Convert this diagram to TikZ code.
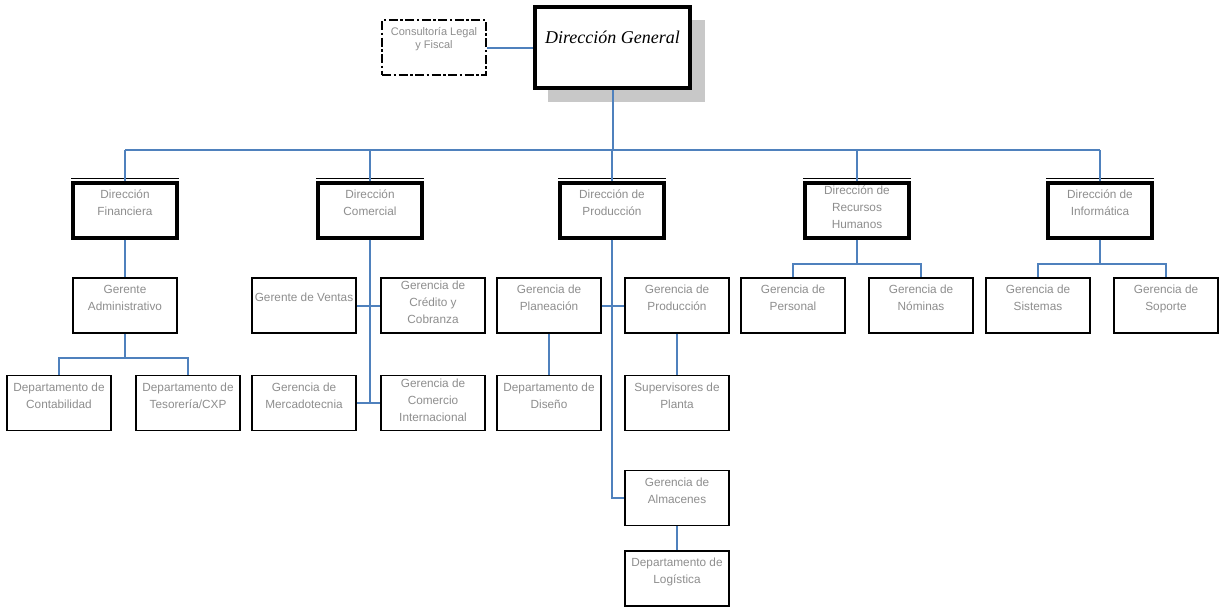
\documentclass[tikz,border=0pt]{standalone}
\usepackage{fontspec}
\setmainfont{Liberation Sans}
\newfontfamily\titlefont{Liberation Serif}
\definecolor{linkblue}{HTML}{4F81BD}
\definecolor{labelgray}{HTML}{8E8E8E}
\definecolor{shadowgray}{HTML}{C8C8C8}
\newcommand{\boxtext}[2][0pt]{\parbox[c][47pt][t]{100pt}{\vspace*{#1}\centering\strut #2}}
\tikzset{%
  org/.style = {
    x=1pt, y=-1pt,
    every node/.style = {shape=rectangle, inner sep=0pt, align=center,
      minimum width=104pt, minimum height=55pt, fill=white,
      text=labelgray, font=\fontsize{11.8}{17}\selectfont},
    link/.style = {draw=linkblue, line width=2pt}
  },
  unitbox/.style = {draw, line width=1.9pt},
  dirbox/.style = {draw, line width=3.4pt},
  headbox/.style = {draw, line width=4.6pt, minimum width=155pt, minimum height=81pt,
    text=black, font=\titlefont\itshape\fontsize{18}{20}\selectfont,
    text height=13pt, text depth=22pt},
  advisorbox/.style = {draw, line width=2.8pt, dash pattern=on 9pt off 2.5pt on 2.5pt off 2.5pt,
    font=\fontsize{11}{13}\selectfont}
}
\begin{document}
\begin{tikzpicture}[org]
  \useasboundingbox (0,0) rectangle (1219,608);
  % head and advisor
  \fill[shadowgray] (548,20) rectangle (705,102);
  \node[headbox] (dg) at (612.5,47.5) {Dirección General};
  \node[advisorbox] (cons) at (434,47.5)
    {\parbox[c][47pt][t]{100pt}{\vspace*{2pt}\centering\strut Consultoría Legal\\y Fiscal}};
  % directions
  \node[dirbox] (fin) at (125,210.5) {\boxtext{Dirección\\Financiera}};
  \node[dirbox] (com) at (370,210.5) {\boxtext{Dirección\\Comercial}};
  \node[dirbox] (pro) at (612,210.5) {\boxtext{Dirección de\\Producción}};
  \node[dirbox] (rh) at (857,210.5) {\boxtext[-4pt]{Dirección de\\Recursos\\Humanos}};
  \node[dirbox] (inf) at (1100,210.5) {\boxtext{Dirección de\\Informática}};
  \foreach \n in {fin,com,pro,rh,inf}
    \draw[line width=0.8pt] ([yshift=2.6pt]\n.north west) -- ([yshift=2.6pt]\n.north east);
  % finanzas
  \node[unitbox] (ga) at (125,305.5) {\boxtext{Gerente\\Administrativo}};
  \node[unitbox] (cont) at (59,403) {\boxtext{Departamento de\\Contabilidad}};
  \node[unitbox] (tes) at (188,403) {\boxtext{Departamento de\\Tesorería/CXP}};
  % comercial
  \node[unitbox] (vent) at (304,305.5) {\boxtext[8pt]{Gerente de Ventas}};
  \node[unitbox] (cred) at (433,305.5) {\boxtext[-4pt]{Gerencia de\\Crédito y\\Cobranza}};
  \node[unitbox] (merc) at (304,403) {\boxtext{Gerencia de\\Mercadotecnia}};
  \node[unitbox] (cint) at (433,403) {\boxtext[-4pt]{Gerencia de\\Comercio\\Internacional}};
  % produccion
  \node[unitbox] (plan) at (549,305.5) {\boxtext{Gerencia de\\Planeación}};
  \node[unitbox] (gpro) at (677,305.5) {\boxtext{Gerencia de\\Producción}};
  \node[unitbox] (dis) at (549,403) {\boxtext{Departamento de\\Diseño}};
  \node[unitbox] (sup) at (677,403) {\boxtext{Supervisores de\\Planta}};
  \node[unitbox] (alm) at (677,498) {\boxtext{Gerencia de\\Almacenes}};
  \node[unitbox] (log) at (677,578.5) {\boxtext{Departamento de\\Logística}};
  % recursos humanos
  \node[unitbox] (pers) at (793,305.5) {\boxtext{Gerencia de\\Personal}};
  \node[unitbox] (nom) at (921,305.5) {\boxtext{Gerencia de\\Nóminas}};
  % informatica
  \node[unitbox] (sis) at (1038,305.5) {\boxtext{Gerencia de\\Sistemas}};
  \node[unitbox] (sop) at (1166,305.5) {\boxtext{Gerencia de\\Soporte}};

  % connectors
  \coordinate (bus) at ([yshift=-60pt]dg.south);
  \draw[link] (cons.east) -- (dg.west |- cons.east);
  \draw[link] (dg.south) -- (bus);
  \draw[link] (fin.north |- bus) -- (inf.north |- bus);
  \foreach \n in {fin,com,pro,rh,inf}
    \draw[link] (\n.north) -- (\n.north |- bus);
  \draw[link] (fin.south) -- (ga.north);
  \draw[link] (cont.north) |- ([yshift=-24pt]ga.south) -| (tes.north);
  \draw[link] (ga.south) -- ([yshift=-24pt]ga.south);
  \draw[link] (com.south) -- (com.south |- merc.east);
  \draw[link] (vent.east) -- (cred.west);
  \draw[link] (merc.east) -- (cint.west);
  \draw[link] (pro.south) |- (alm.west);
  \draw[link] (plan.east) -- (gpro.west);
  \draw[link] (plan.south) -- (dis.north);
  \draw[link] (gpro.south) -- (sup.north);
  \draw[link] (alm.south) -- (log.north);
  \draw[link] (pers.north) |- ([yshift=-24pt]rh.south) -| (nom.north);
  \draw[link] (rh.south) -- ([yshift=-24pt]rh.south);
  \draw[link] (sis.north) |- ([yshift=-24pt]inf.south) -| (sop.north);
  \draw[link] (inf.south) -- ([yshift=-24pt]inf.south);
\end{tikzpicture}
\end{document}
